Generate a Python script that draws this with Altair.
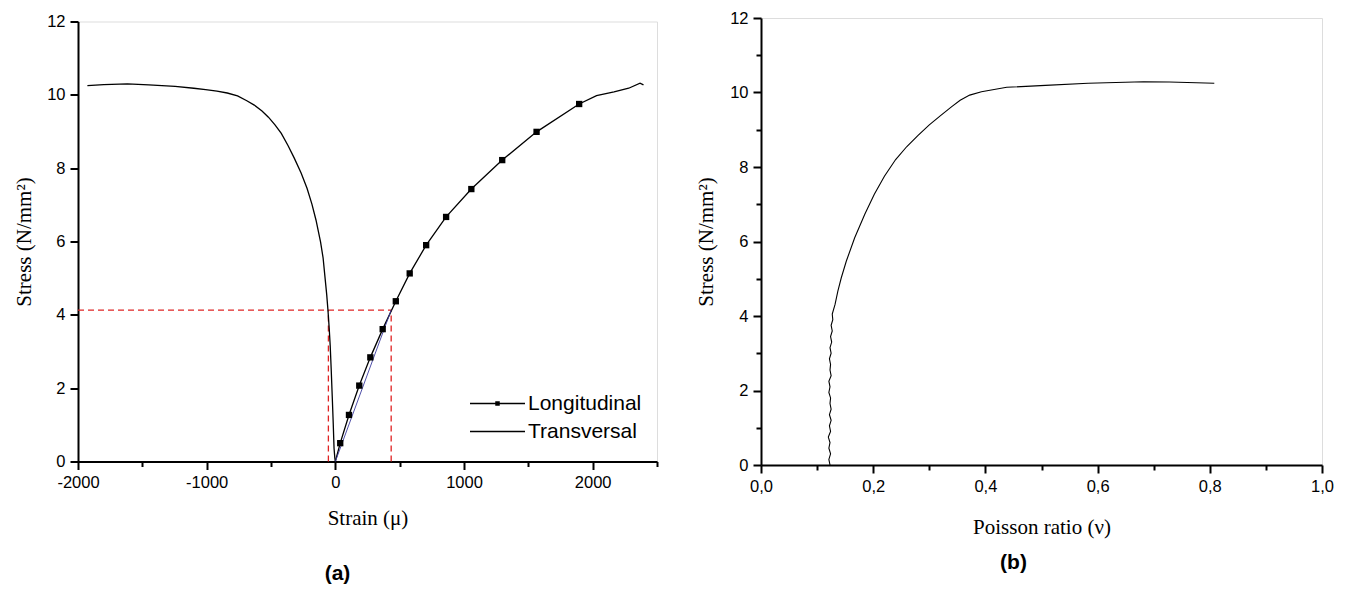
import altair as alt
import pandas as pd

# ---------------- data ----------------
trans_strain = [-1927, -1800, -1616, -1450, -1245, -1100, -1008, -920, -840, -760,
                -688, -630, -570, -520, -469, -420, -368, -320, -266, -220,
                -182, -150, -115, -95, -81, -67, -57, -48, -40, -32,
                -24, -16, -10, -4, 0]
trans_stress = [10.25, 10.28, 10.30, 10.27, 10.23, 10.18, 10.14, 10.10, 10.05, 9.97,
                9.84, 9.72, 9.56, 9.39, 9.18, 8.95, 8.62, 8.28, 7.87, 7.45,
                7.02, 6.58, 5.99, 5.55, 5.05, 4.55, 4.11, 3.65, 3.17, 2.50,
                1.77, 1.00, 0.36, 0.10, 0.0]

long_strain = [0, 38, 106, 186, 272, 368, 470, 578, 706, 861, 1057, 1297, 1564, 1895,
               2030, 2166, 2280, 2368, 2395]
long_stress = [0.0, 0.50, 1.27, 2.07, 2.84, 3.61, 4.37, 5.13, 5.90, 6.67, 7.43, 8.22,
               8.99, 9.75, 9.98, 10.08, 10.18, 10.32, 10.27]

marker_strain = [38, 106, 186, 272, 368, 470, 578, 706, 861, 1057, 1297, 1564, 1895]
marker_stress = [0.50, 1.27, 2.07, 2.84, 3.61, 4.37, 5.13, 5.90, 6.67, 7.43, 8.22, 8.99, 9.75]

fit_strain = [0, 434]
fit_stress = [0.0, 4.13]

ref_stress = 4.13
ref_trans_strain = -54
ref_long_strain = 434

pois_nu = [0.123, 0.121, 0.124, 0.121, 0.123, 0.120, 0.124, 0.122, 0.125, 0.122,
           0.125, 0.123, 0.124, 0.121, 0.123, 0.121, 0.125, 0.123, 0.124, 0.122,
           0.125, 0.123, 0.126, 0.124, 0.127, 0.125, 0.128, 0.127,
           0.132, 0.137, 0.143, 0.152, 0.167, 0.185, 0.202, 0.220, 0.240, 0.260,
           0.280, 0.300, 0.320, 0.340, 0.355, 0.372, 0.393, 0.438, 0.507, 0.583,
           0.682, 0.728, 0.808]
pois_stress = [0.0, 0.15, 0.30, 0.45, 0.60, 0.75, 0.90, 1.05, 1.20, 1.35,
               1.50, 1.65, 1.80, 1.95, 2.10, 2.25, 2.40, 2.55, 2.70, 2.85,
               3.00, 3.15, 3.30, 3.45, 3.60, 3.75, 3.90, 4.05,
               4.31, 4.67, 5.02, 5.47, 6.10, 6.73, 7.27, 7.75, 8.20, 8.55,
               8.85, 9.13, 9.38, 9.62, 9.79, 9.93, 10.02, 10.14, 10.19, 10.25,
               10.29, 10.28, 10.25]

series_names = ["Longitudinal", "Transversal"]

# ---------------- tables ----------------
df_lines = pd.concat([
    pd.DataFrame({"strain": long_strain, "stress": long_stress, "series": "Longitudinal",
                  "idx": range(len(long_strain))}),
    pd.DataFrame({"strain": trans_strain, "stress": trans_stress, "series": "Transversal",
                  "idx": range(len(trans_strain))}),
], ignore_index=True)
df_markers = pd.DataFrame({"strain": marker_strain, "stress": marker_stress})
df_fit = pd.DataFrame({"strain": fit_strain, "stress": fit_stress})
df_hline = pd.DataFrame({"x1": [-2000], "x2": [ref_long_strain], "y": [ref_stress]})
df_vline = pd.DataFrame({"x": [ref_trans_strain, ref_long_strain], "y1": [0, 0],
                         "y2": [ref_stress, ref_stress]})
df_pois = pd.DataFrame({"nu": pois_nu, "stress": pois_stress, "idx": range(len(pois_nu))})

# ---------------- styles ----------------
TICK_FONT = "Liberation Sans"
TITLE_FONT = "Liberation Serif"


def axis(title, values, label_test, label_expr, tick_test, title_pad):
    return alt.Axis(
        title=title, values=values, grid=False,
        labelExpr=f"{label_test} ? {label_expr} : ''",
        tickSize={"condition": {"test": tick_test, "value": 8}, "value": 5},
        tickWidth=2, tickColor="black", domainWidth=2, domainColor="black",
        labelFont=TICK_FONT, labelFontSize=16.5, labelColor="black", labelPadding=5,
        labelFlush=False, labelOverlap=False, labelBound=False,
        titleFont=TITLE_FONT, titleFontSize=21, titleFontWeight="normal",
        titleColor="black", titlePadding=title_pad,
    )


xa = axis("Strain (μ)", list(range(-2000, 2501, 500)),
          "datum.value % 1000 === 0", "('' + datum.value)",
          "datum.value % 1000 === 0", 16)
ya = axis("Stress (N/mm²)", list(range(0, 13)),
          "datum.value % 2 === 0", "('' + datum.value)",
          "datum.value % 2 === 0", 12)

xs = alt.Scale(domain=[-2000, 2500], nice=False, zero=False)
ys = alt.Scale(domain=[0, 12], nice=False)

X = alt.X("strain:Q", scale=xs, axis=xa)
Y = alt.Y("stress:Q", scale=ys, axis=ya)

lines = alt.Chart(df_lines).mark_line(color="black", strokeWidth=1.3).encode(
    x=X, y=Y, detail="series:N", order="idx:Q")

fit = alt.Chart(df_fit).mark_line(color="#3b3b9e", strokeWidth=0.9).encode(x="strain:Q", y="stress:Q")

markers = alt.Chart(df_markers).mark_point(shape="square", filled=True, color="black",
                                          size=40, opacity=1).encode(x="strain:Q", y="stress:Q")

hline = alt.Chart(df_hline).mark_rule(color="#e02424", strokeWidth=1.3, strokeDash=[6, 4]).encode(
    x="x1:Q", x2="x2:Q", y="y:Q")
vline = alt.Chart(df_vline).mark_rule(color="#e02424", strokeWidth=1.3, strokeDash=[6, 4]).encode(
    x="x:Q", y="y1:Q", y2="y2:Q")

legend_layer = alt.Chart(df_lines).transform_filter("false").mark_point(
    filled=False, color="black", strokeWidth=1.5, opacity=1).encode(
    x="strain:Q", y="stress:Q",
    shape=alt.Shape("series:N",
                    scale=alt.Scale(domain=series_names,
                                    range=["M-5.5,0H5.5M-0.3,-0.3H0.3V0.3H-0.3Z", "M-5.5,0H5.5"]),
                    legend=alt.Legend(title=None, orient="none", legendX=409, legendY=375,
                                      symbolSize=100, symbolStrokeWidth=1.5,
                                      labelOffset=20,
                                      labelFont=TICK_FONT, labelFontSize=21, labelColor="black",
                                      rowPadding=6, padding=0)))

left = alt.layer(hline, vline, lines, fit, markers, legend_layer).properties(
    width=579, height=440,
    title=alt.TitleParams("(a)", orient="bottom", font=TICK_FONT, fontSize=21,
                          fontWeight="bold", color="black", offset=35, dx=-30))

# ---------------- right panel ----------------
xa2 = axis("Poisson ratio (ν)", [round(v * 0.1, 1) for v in range(0, 11)],
           "round(datum.value*10) % 2 === 0", "replace(format(datum.value, '.1f'), '.', ',')",
           "round(datum.value*10) % 2 === 0", 22)
ya2 = axis("Stress (N/mm²)", list(range(0, 13)),
           "datum.value % 2 === 0", "('' + datum.value)",
           "datum.value % 2 === 0", 13)

right = alt.Chart(df_pois).mark_line(color="black", strokeWidth=1.1).encode(
    x=alt.X("nu:Q", scale=alt.Scale(domain=[0, 1], nice=False), axis=xa2),
    y=alt.Y("stress:Q", scale=alt.Scale(domain=[0, 12], nice=False), axis=ya2),
    order="idx:Q",
).properties(
    width=561, height=447,
    title=alt.TitleParams("(b)", orient="bottom", font=TICK_FONT, fontSize=21,
                          fontWeight="bold", color="black", offset=14, dx=-28))

chart = alt.hconcat(left, right, spacing=104, center=True, bounds="flush").properties(
    padding={"left": 5, "top": 1, "right": 0, "bottom": 0}
).configure_view(stroke=None).configure(background="white")

chart.save("out.html", embed_options={"renderer": "svg", "actions": False})
